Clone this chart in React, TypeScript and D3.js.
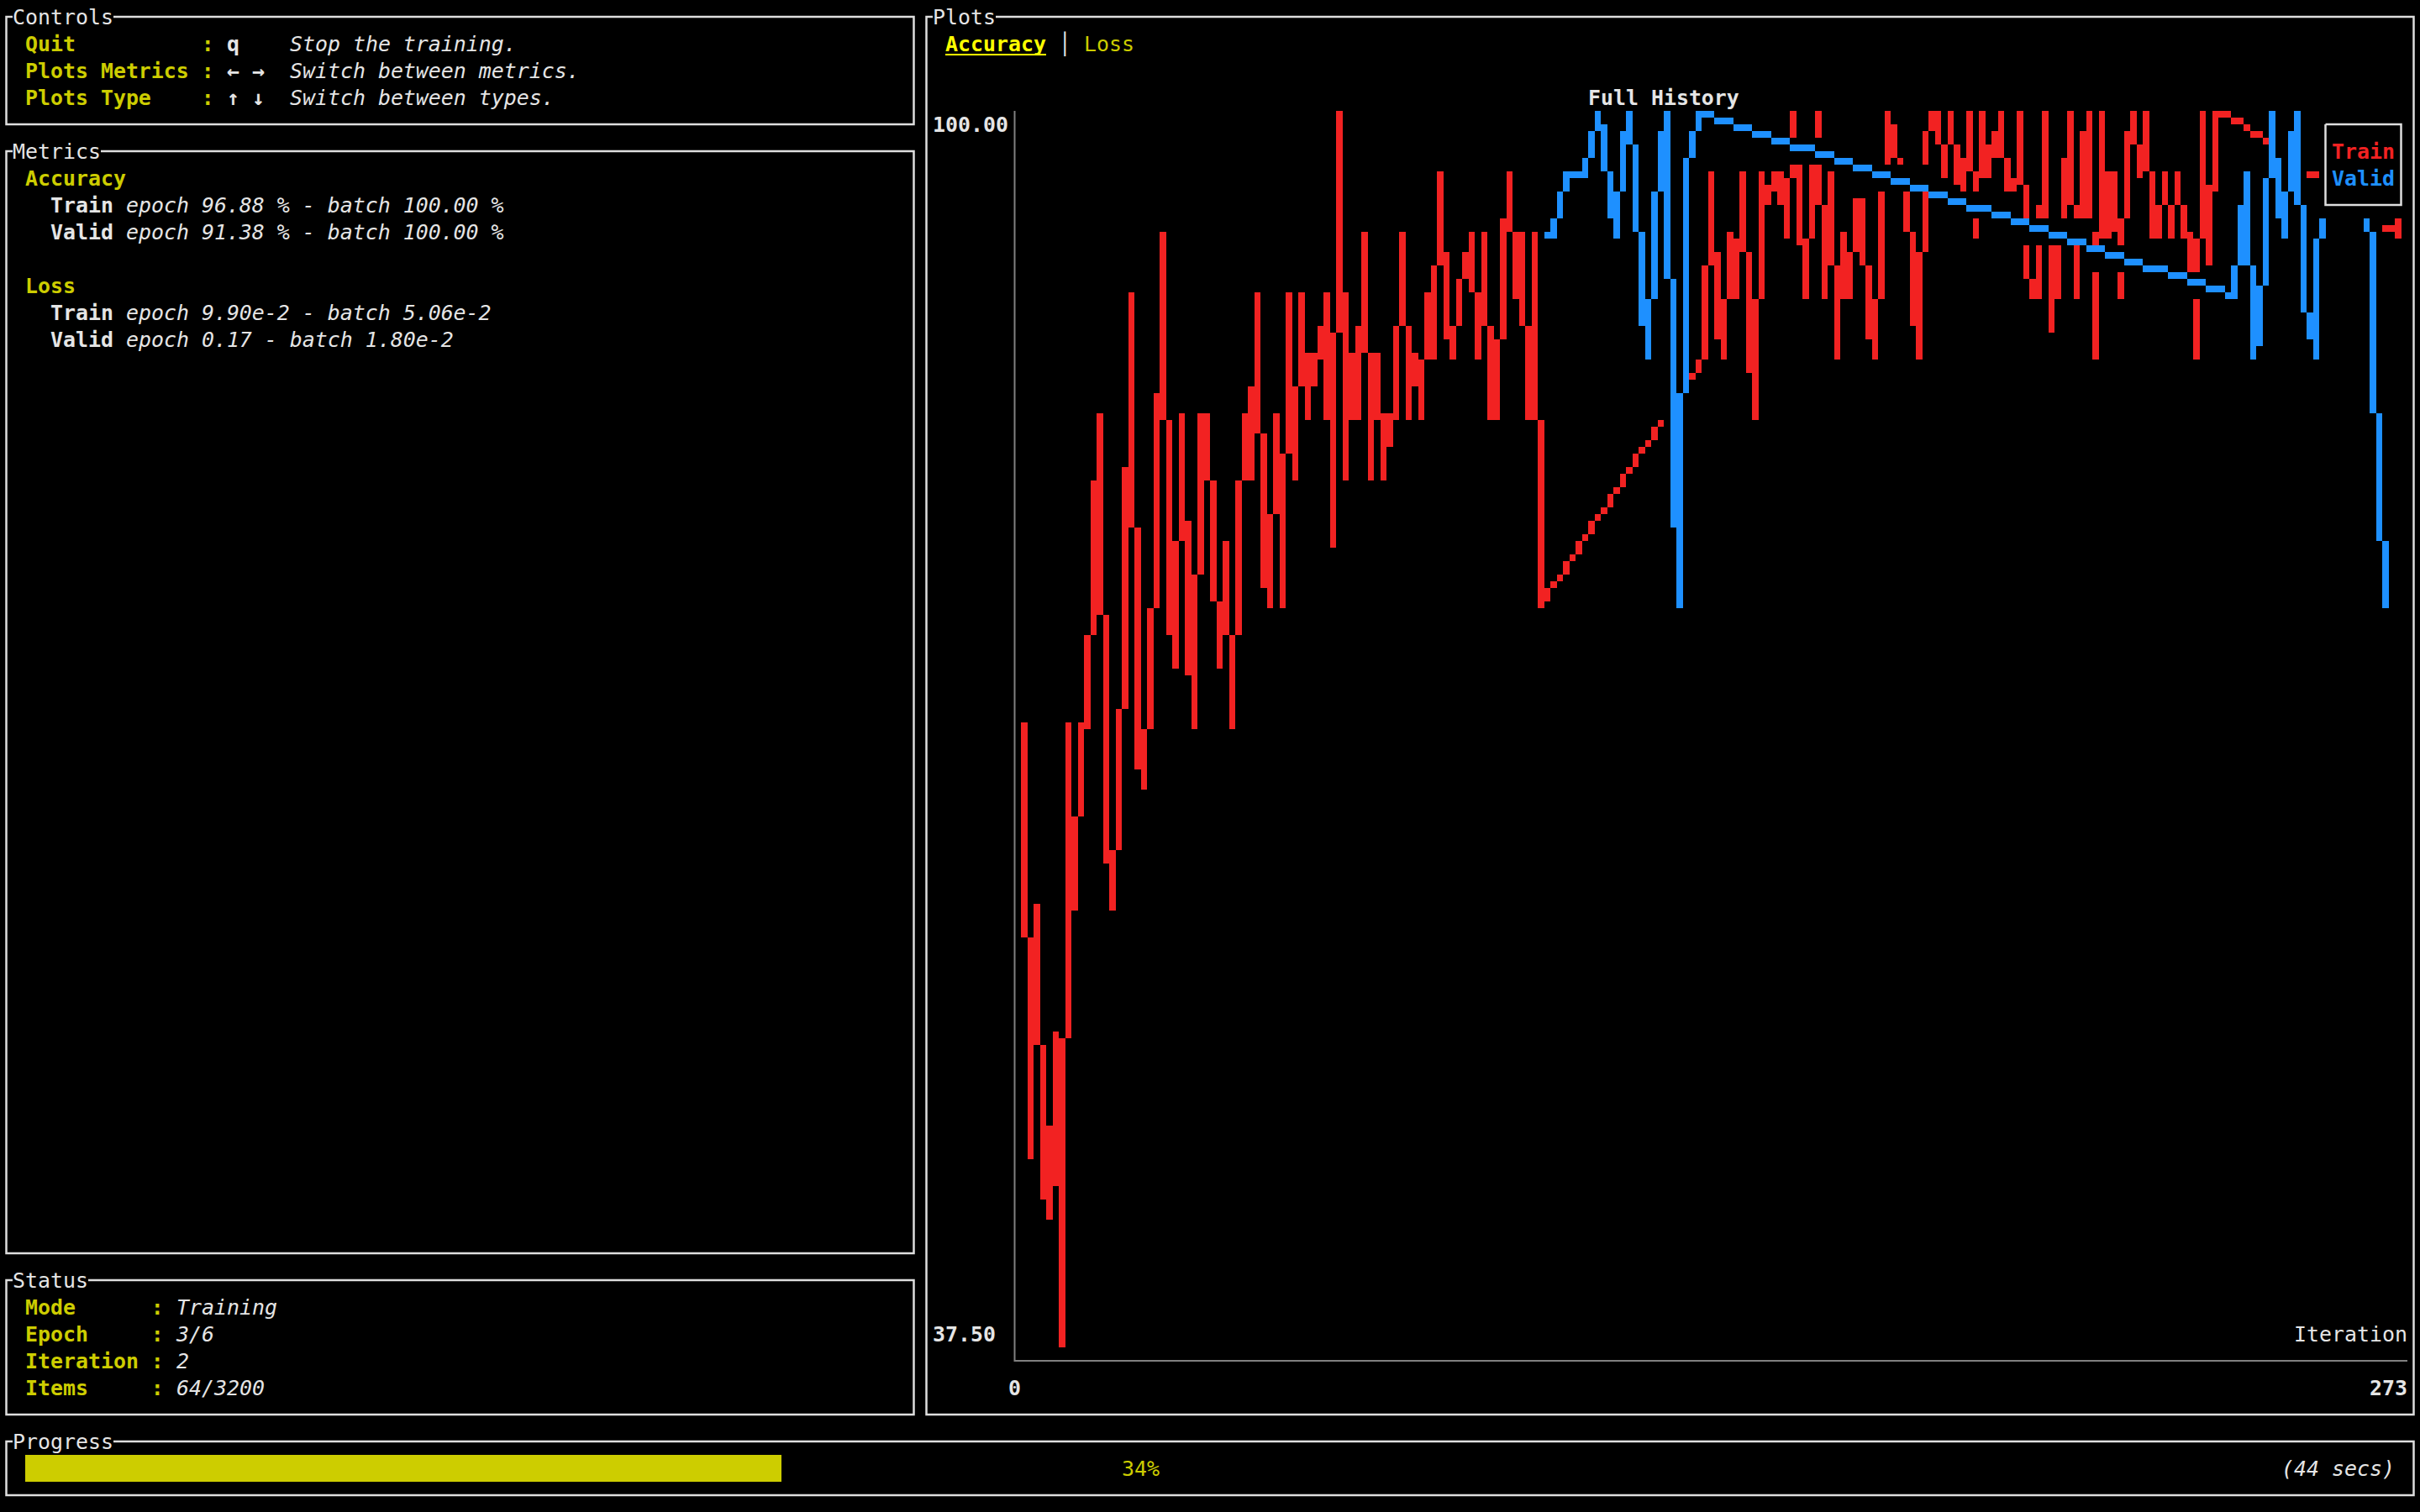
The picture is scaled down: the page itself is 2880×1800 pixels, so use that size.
import * as d3 from "d3"

// ---- data ----
const iterationMax = 273
const accuracyMin = 37.5
const accuracyMax = 100
const sampleSpacing = 1.2466 // iterations between plotted samples

const trainEpoch1Start = 0
const trainEpoch1 = [
  68.75, 46.88, 59.38, 45.31, 43.75, 53.13, 37.5, 68.75, 59.38, 68.75,
  68.75, 78.13, 84.38, 64.06, 59.38, 65.63, 73.44, 90.63, 67.19, 65.63,
  71.88, 78.13, 93.75, 75, 71.88, 84.38, 73.44, 68.75, 84.38, 84.38,
  78.13, 71.88, 78.13, 68.75, 78.13, 84.38, 81.25, 90.63, 76.56, 75,
  84.38, 75, 90.63, 81.25, 90.63, 84.38, 87.5, 87.5, 90.63, 78.13,
  100, 81.25, 87.5, 84.38, 93.75, 81.25, 87.5, 81.25, 84.38, 84.38,
  93.75, 84.38, 87.5, 84.38, 90.63, 87.5, 96.88, 89.06, 87.5, 90.63,
  92.19, 93.75, 87.5, 93.75, 84.38, 84.38, 92.19, 96.88, 90.63, 93.75,
  84.38, 93.75, 75,
]

const validEpoch1Start = 103.5
const validEpoch1 = [
  93.75, 93.75, 95.31, 96.88, 96.88, 96.88, 96.88, 98.44, 100, 98.44,
  95.31, 93.75, 98.44, 100, 96.88, 90.63, 87.5, 93.75, 98.44, 100,
  82.81, 75, 96.88, 98.44, 100, 100,
]

const trainEpoch2Start = 134.6
const trainEpoch2 = [
  87.5, 96.88, 89.06, 87.5, 93.75, 90.63, 96.88, 89.06, 84.38, 96.88,
  95.31, 96.88, 96.88, 93.75, 100, 95.31, 90.63, 96.88, 100, 90.63,
  96.88, 87.5, 93.75, 90.63, 95.31, 95.31, 89.06, 87.5, 93.75, 100,
  98.44, 96.88, 96.88, 90.63, 87.5, 98.44, 100, 100, 96.88, 100,
  96.88, 95.31, 100, 93.75, 100, 96.88, 98.44, 100, 95.31, 93.75,
  100, 92.19, 90.63, 90.63, 100, 89.06, 92.19, 95.31, 100, 90.63,
  98.44, 100, 87.5, 100, 93.75, 96.88, 90.63, 98.44, 100, 96.88,
  100, 93.75, 93.75, 96.88, 93.75, 96.88, 93.75, 93.75, 87.5, 100,
  92.19, 100, 100, 100,
]

const validEpoch2Start = 239.3
const validEpoch2 = [
  90.63, 93.75, 96.88, 87.5, 89.06, 93.75, 100, 95.31, 93.75, 98.44,
  100, 90.63, 89.06, 87.5, 100, 98.44, 96.88, 98.44, 100, 98.44,
  96.88, 100, 87.5, 81.25, 75,
]

const trainEpoch3Iterations = [271.3, 272.0]
const trainEpoch3 = [93.75, 95.31]

const yTickLabels = ["100.00", "37.50"]
const xTickLabels = ["0", "273"]
const seriesNames = ["Train", "Valid"]

// ---- terminal grid ----
const CW = 15
const RH = 32
const TOP = 4
const FS = 24.9
const FONT = "'DejaVu Sans Mono', monospace"

const WHITE = "#e5e5e5"
const YELLOW = "#cdcd00"
const BRIGHT = "#ffff00"
const BORDER = "#dedede"
const AXIS = "#808080"
const RED = "#f22222"
const BLUE = "#1e90ff"

const colL = (c: number) => c * CW
const colC = (c: number) => c * CW + CW / 2
const rowT = (r: number) => TOP + r * RH
const rowC = (r: number) => TOP + r * RH + RH / 2

type TxtProps = {
  c: number
  r: number
  s: string
  fill?: string
  bold?: boolean
  italic?: boolean
}

function Txt({ c, r, s, fill = WHITE, bold, italic }: TxtProps) {
  return (
    <text
      x={colL(c)}
      y={rowT(r) + 25}
      fill={fill}
      fontFamily={FONT}
      fontSize={FS}
      fontWeight={bold ? "bold" : "normal"}
      fontStyle={italic ? "italic" : "normal"}
      style={{ whiteSpace: "pre" }}
    >
      {s}
    </text>
  )
}

function Box({ c0, r0, c1, r1, title }: { c0: number; r0: number; c1: number; r1: number; title?: string }) {
  const len = title ? title.length : 0
  const tStart = title ? colL(c0 + 1) : colC(c0)
  const tEnd = title ? colL(c0 + 1 + len) : colC(c0)
  const d = `M${tStart},${rowC(r0)} H${colC(c0)} V${rowC(r1)} H${colC(c1)} V${rowC(r0)} H${tEnd}`
  return (
    <g>
      <path d={d} fill="none" stroke={BORDER} strokeWidth={2.5} />
      {title && <Txt c={c0 + 1} r={r0} s={title} />}
    </g>
  )
}

// ---- chart rasterised the way the terminal canvas does it (2x4 dots per cell) ----
const PLOT_C0 = 81
const PLOT_R0 = 4
const PLOT_COLS = 110
const PLOT_ROWS = 46
const DOT_W = CW / 2
const DOT_H = RH / 4

function spread(values: number[], start: number): [number, number][] {
  return values.map((v, i) => [start + i * sampleSpacing, v])
}

const trainPoints: [number, number][] = [
  ...spread(trainEpoch1, trainEpoch1Start),
  ...spread(trainEpoch2, trainEpoch2Start),
  ...trainEpoch3.map((v, i) => [trainEpoch3Iterations[i], v] as [number, number]),
]
const validPoints: [number, number][] = [
  ...spread(validEpoch1, validEpoch1Start),
  ...spread(validEpoch2, validEpoch2Start),
]

const xDot = d3.scaleLinear().domain([0, iterationMax]).range([0, PLOT_COLS * 2 - 1])
const yDot = d3.scaleLinear().domain([accuracyMin, accuracyMax]).range([PLOT_ROWS * 4 - 1, 0])

function rasterise(points: [number, number][]) {
  const dots = new Set<string>()
  const grid = points.map(([x, y]) => [Math.round(xDot(x)), Math.floor(yDot(y) + 1e-6)])
  for (let i = 0; i < grid.length; i++) {
    let [x0, y0] = grid[i]
    const [x1, y1] = i + 1 < grid.length ? grid[i + 1] : grid[i]
    const dx = Math.abs(x1 - x0)
    const sx = x0 < x1 ? 1 : -1
    const dy = -Math.abs(y1 - y0)
    const sy = y0 < y1 ? 1 : -1
    let err = dx + dy
    while (true) {
      dots.add(`${x0},${y0}`)
      if (x0 === x1 && y0 === y1) break
      const e2 = 2 * err
      if (e2 >= dy) { err += dy; x0 += sx }
      if (e2 <= dx) { err += dx; y0 += sy }
    }
  }
  return dots
}

// legend occupies plot cells cols 184..190 / rows 4..7
const inLegend = (gx: number, gy: number) => gx >= (184 - PLOT_C0) * 2 && gy < 16
const cellKey = (gx: number, gy: number) => `${gx >> 1},${gy >> 2}`

function toRuns(dots: string[]) {
  const byCol = d3.group(dots.map(k => k.split(",").map(Number)), d => d[0])
  const runs: { gx: number; gy: number; h: number }[] = []
  byCol.forEach((list, gx) => {
    const ys = list.map(d => d[1]).sort((a, b) => a - b)
    let start = ys[0]
    let prev = ys[0]
    for (let i = 1; i <= ys.length; i++) {
      if (i < ys.length && ys[i] === prev + 1) { prev = ys[i]; continue }
      runs.push({ gx, gy: start, h: prev - start + 1 })
      if (i < ys.length) { start = ys[i]; prev = ys[i] }
    }
  })
  return runs
}

function ChartMarks() {
  const train = rasterise(trainPoints)
  const valid = rasterise(validPoints)
  const validCells = new Set<string>()
  valid.forEach(k => {
    const [gx, gy] = k.split(",").map(Number)
    if (!inLegend(gx, gy)) validCells.add(cellKey(gx, gy))
  })
  const validDots = [...valid].filter(k => {
    const [gx, gy] = k.split(",").map(Number)
    return !inLegend(gx, gy)
  })
  const trainDots = [...train].filter(k => {
    const [gx, gy] = k.split(",").map(Number)
    return !inLegend(gx, gy) && !validCells.has(cellKey(gx, gy))
  })
  const ox = colL(PLOT_C0)
  const oy = rowT(PLOT_R0)
  return (
    <g shapeRendering="crispEdges">
      {toRuns(trainDots).map((d, i) => (
        <rect key={"t" + i} x={ox + d.gx * DOT_W} y={oy + d.gy * DOT_H} width={DOT_W} height={d.h * DOT_H} fill={RED} />
      ))}
      {toRuns(validDots).map((d, i) => (
        <rect key={"v" + i} x={ox + d.gx * DOT_W} y={oy + d.gy * DOT_H} width={DOT_W} height={d.h * DOT_H} fill={BLUE} />
      ))}
    </g>
  )
}

export default function App() {
  const progress = 0.34
  const gaugeC0 = 2
  const gaugeCols = 176
  return (
    <>
      <style>{"body{margin:0;background:#000;overflow:hidden}"}</style>
      <svg width={2880} height={1800} style={{ position: "fixed", left: 0, top: 0, background: "#000" }}>
        <rect width={2880} height={1800} fill="#000" />

        {/* Controls */}
        <Box c0={0} r0={0} c1={72} r1={4} title="Controls" />
        <Txt c={2} r={1} s="Quit          :" fill={YELLOW} bold />
        <Txt c={18} r={1} s="q" bold />
        <Txt c={23} r={1} s="Stop the training." italic />
        <Txt c={2} r={2} s="Plots Metrics :" fill={YELLOW} bold />
        <Txt c={18} r={2} s="← →" bold />
        <Txt c={23} r={2} s="Switch between metrics." italic />
        <Txt c={2} r={3} s="Plots Type    :" fill={YELLOW} bold />
        <Txt c={18} r={3} s="↑ ↓" bold />
        <Txt c={23} r={3} s="Switch between types." italic />

        {/* Metrics */}
        <Box c0={0} r0={5} c1={72} r1={46} title="Metrics" />
        <Txt c={2} r={6} s="Accuracy" fill={YELLOW} bold />
        <Txt c={4} r={7} s="Train" bold />
        <Txt c={10} r={7} s="epoch 96.88 % - batch 100.00 %" italic />
        <Txt c={4} r={8} s="Valid" bold />
        <Txt c={10} r={8} s="epoch 91.38 % - batch 100.00 %" italic />
        <Txt c={2} r={10} s="Loss" fill={YELLOW} bold />
        <Txt c={4} r={11} s="Train" bold />
        <Txt c={10} r={11} s="epoch 9.90e-2 - batch 5.06e-2" italic />
        <Txt c={4} r={12} s="Valid" bold />
        <Txt c={10} r={12} s="epoch 0.17 - batch 1.80e-2" italic />

        {/* Status */}
        <Box c0={0} r0={47} c1={72} r1={52} title="Status" />
        <Txt c={2} r={48} s="Mode      :" fill={YELLOW} bold />
        <Txt c={14} r={48} s="Training" italic />
        <Txt c={2} r={49} s="Epoch     :" fill={YELLOW} bold />
        <Txt c={14} r={49} s="3/6" italic />
        <Txt c={2} r={50} s="Iteration :" fill={YELLOW} bold />
        <Txt c={14} r={50} s="2" italic />
        <Txt c={2} r={51} s="Items     :" fill={YELLOW} bold />
        <Txt c={14} r={51} s="64/3200" italic />

        {/* Progress */}
        <Box c0={0} r0={53} c1={191} r1={55} title="Progress" />
        <rect
          x={colL(gaugeC0)}
          y={rowT(54)}
          width={Math.round(gaugeCols * progress) * CW}
          height={RH}
          fill={YELLOW}
        />
        <Txt c={gaugeC0 + gaugeCols / 2 - 1} r={54} s={`${Math.round(progress * 100)}%`} fill={YELLOW} />
        <Txt c={181} r={54} s="(44 secs)" italic />

        {/* Plots */}
        <Box c0={73} r0={0} c1={191} r1={52} title="Plots" />
        <Txt c={75} r={1} s="Accuracy" fill={BRIGHT} bold />
        <rect x={colL(75)} y={rowT(1) + 28} width={8 * CW} height={2} fill={BRIGHT} />
        <Txt c={84} r={1} s="│" />
        <Txt c={86} r={1} s="Loss" fill={YELLOW} />
        <Txt c={126} r={3} s="Full History" bold />

        <ChartMarks />

        <path
          d={`M${colC(80)},${rowT(PLOT_R0)} V${rowC(50)} H${colL(191)}`}
          fill="none"
          stroke={AXIS}
          strokeWidth={2}
        />
        <Txt c={74} r={4} s={yTickLabels[0]} bold />
        <Txt c={74} r={49} s={yTickLabels[1]} bold />
        <Txt c={80} r={51} s={xTickLabels[0]} bold />
        <Txt c={191 - xTickLabels[1].length} r={51} s={xTickLabels[1]} bold />
        <Txt c={191 - "Iteration".length} r={49} s="Iteration" />

        {/* legend */}
        <rect x={colL(184)} y={rowT(4)} width={7 * CW} height={4 * RH} fill="#000" />
        <Box c0={184} r0={4} c1={190} r1={7} />
        <Txt c={185} r={5} s={seriesNames[0]} fill={RED} bold />
        <Txt c={185} r={6} s={seriesNames[1]} fill={BLUE} bold />
      </svg>
    </>
  )
}
